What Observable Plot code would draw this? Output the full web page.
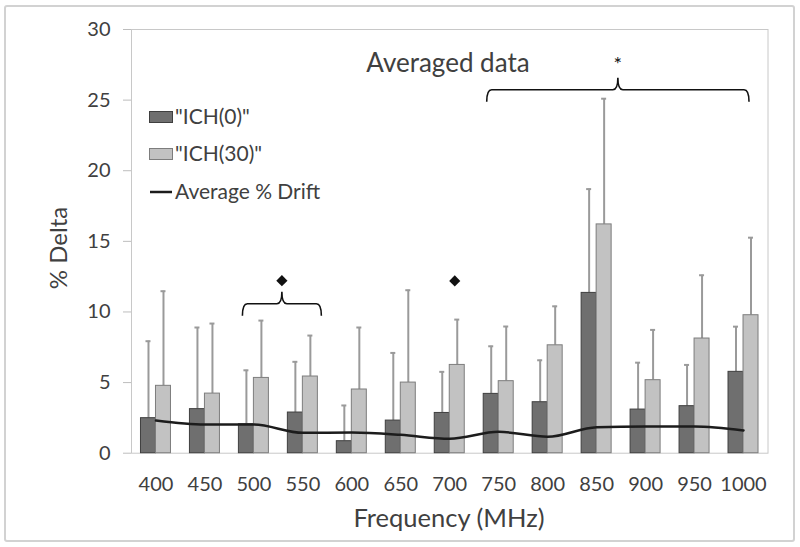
<!DOCTYPE html>
<html><head><meta charset="utf-8">
<script src="https://cdn.jsdelivr.net/npm/d3@7"></script>
<script src="https://cdn.jsdelivr.net/npm/@observablehq/plot@0.6"></script>
<style>
body{margin:0;background:#fff;}
#wrap{position:relative;width:800px;height:547px;overflow:hidden;}
#frame{position:absolute;left:4px;top:5px;width:787px;height:533px;border:2px solid #d2d2d2;border-radius:3px;pointer-events:none;}
#chart svg [aria-label^="y-axis"] line, #chart svg [aria-label="y-axis tick"] path{stroke:#bdbdbd;}
</style></head><body>
<div id="wrap"><div id="chart"></div><div id="frame"></div></div>
<script>
// ---- data ----
const frequencies = ["400","450","500","550","600","650","700","750","800","850","900","950","1000"];
const ich0Mean  = [2.48, 3.12, 2.05, 2.88, 0.85, 2.31, 2.85, 4.20, 3.61, 11.35, 3.09, 3.33, 5.76];
const ich0SD    = [5.45, 5.78, 3.82, 3.59, 2.53, 4.79, 2.91, 3.37, 2.97, 7.35, 3.32, 2.92, 3.20];
const ich30Mean = [4.77, 4.22, 5.33, 5.43, 4.51, 5.00, 6.25, 5.10, 7.64, 16.20, 5.17, 8.12, 9.77];
const ich30SD   = [6.70, 4.96, 4.06, 2.90, 4.39, 6.54, 3.21, 3.87, 2.76, 8.90, 3.56, 4.48, 5.49];
const avgDrift  = [2.31, 2.03, 2.03, 1.44, 1.46, 1.30, 1.02, 1.51, 1.16, 1.84, 1.89, 1.89, 1.61];
const yTicks    = [0, 5, 10, 15, 20, 25, 30];
const seriesNames = ['"ICH(0)"', '"ICH(30)"', "Average % Drift"];
const braceGroups = [
  {from: "500", to: "550", level: 10.55, symbol: "◆"},
  {from: "750", to: "1000", level: 25.7, symbol: "*"}
];
const singleMarks = [{freq: "700", level: 12.2, symbol: "◆"}];
const chartTitle = "Averaged data";
const xTitle = "Frequency (MHz)";
const yTitle = "% Delta";

// ---- layout / style ----
const W = 800, H = 547, ML = 131, MR = 32.5, MT = 29, MB = 94.3;
const bw = (W - ML - MR) / frequencies.length;
const half = bw / 2, barW = 15, cap = 2.5;
const darkFill = "#6f6f6f", darkStroke = "#3f3f3f";
const lightFill = "#c2c2c2", lightStroke = "#7d7d7d";
const errColor = "#9a9a9a";
const textColor = "#404040";
const font = "Lato, sans-serif";
const braceOffsets = {"500": [-11, 19], "750": [-11.5, 6]};

const rows = frequencies.map((f, i) => ({
  freq: f,
  ich0: ich0Mean[i], ich0Hi: ich0Mean[i] + ich0SD[i],
  ich30: ich30Mean[i], ich30Hi: ich30Mean[i] + ich30SD[i],
  drift: avgDrift[i]
}));

function braces(index, scales) {
  const x = scales.x, y = scales.y;
  const off = x.bandwidth ? x.bandwidth() / 2 : 0;
  const g = d3.create("svg:g");
  for (const b of braceGroups) {
    const o = braceOffsets[b.from];
    const L = x(b.from) + off + o[0], R = x(b.to) + off + o[1], M = (L + R) / 2, yb = y(b.level);
    g.append("path")
      .attr("d", `M${L},${yb + 12}Q${L},${yb} ${L + 5},${yb}H${M - 5}Q${M},${yb} ${M},${yb - 12}Q${M},${yb} ${M + 5},${yb}H${R - 5}Q${R},${yb} ${R},${yb + 12}`)
      .attr("fill", "none").attr("stroke", "#111").attr("stroke-width", 1.6);
    if (b.symbol === "◆") {
      g.append("path").attr("transform", `translate(${M},${yb - 23})`)
        .attr("d", d3.symbol(d3.symbolDiamond2, 80)()).attr("fill", "#111");
    } else {
      g.append("text").attr("x", M).attr("y", yb - 19).attr("text-anchor", "middle")
        .attr("font-size", 20).attr("font-family", font).attr("fill", "#111").text(b.symbol);
    }
  }
  return g.node();
}

const plot = Plot.plot({
  width: W, height: H,
  marginLeft: ML, marginRight: MR, marginTop: MT, marginBottom: MB,
  style: {fontFamily: font, fontSize: "20px", color: textColor, background: "white"},
  x: {domain: frequencies, padding: 0, round: false, label: null, tickSize: 0, tickPadding: 24},
  y: {domain: [0, 30], ticks: yTicks, tickSize: 8, tickPadding: 13, label: null},
  marks: [
    Plot.frame({stroke: "#c8c8c8"}),
    Plot.ruleX(rows, {x: "freq", y1: "ich0", y2: "ich0Hi", dx: -barW / 2, stroke: errColor, strokeWidth: 2}),
    Plot.tickY(rows, {x: "freq", y: "ich0Hi", dx: -barW / 2, insetLeft: half - cap, insetRight: half - cap, stroke: errColor, strokeWidth: 2}),
    Plot.ruleX(rows, {x: "freq", y1: "ich30", y2: "ich30Hi", dx: barW / 2, stroke: errColor, strokeWidth: 2}),
    Plot.tickY(rows, {x: "freq", y: "ich30Hi", dx: barW / 2, insetLeft: half - cap, insetRight: half - cap, stroke: errColor, strokeWidth: 2}),
    Plot.barY(rows, {x: "freq", y: "ich0", insetLeft: half - barW, insetRight: half, fill: darkFill, stroke: darkStroke, strokeWidth: 1}),
    Plot.barY(rows, {x: "freq", y: "ich30", insetLeft: half, insetRight: half - barW, fill: lightFill, stroke: lightStroke, strokeWidth: 1}),
    Plot.line(rows, {x: "freq", y: "drift", stroke: "#1c1c1c", strokeWidth: 2.5, curve: "monotone-x"}),
    Plot.dot(singleMarks, {x: "freq", y: "level", symbol: "diamond2", r: 5, fill: "#111", dx: 5}),
    braces
  ]
});

const svg = d3.select(plot);
// chart title
svg.append("text").attr("x", 448).attr("y", 72).attr("text-anchor", "middle")
  .attr("font-family", font).attr("font-size", 26).attr("fill", textColor).text(chartTitle);
// axis titles
svg.append("text").attr("x", 449).attr("y", 527).attr("text-anchor", "middle")
  .attr("font-family", font).attr("font-size", 25.5).attr("fill", textColor).text(xTitle);
svg.append("text").attr("transform", "translate(67,248) rotate(-90)").attr("text-anchor", "middle")
  .attr("font-family", font).attr("font-size", 24).attr("fill", textColor).text(yTitle);
// legend
const lg = svg.append("g").attr("font-family", font).attr("font-size", 21).attr("fill", textColor).attr("text-anchor", "start");
const legendY = [117, 154, 192];
lg.append("rect").attr("x", 149.5).attr("y", legendY[0] - 5.5).attr("width", 23).attr("height", 11)
  .attr("fill", darkFill).attr("stroke", darkStroke);
lg.append("rect").attr("x", 149.5).attr("y", legendY[1] - 5.5).attr("width", 23).attr("height", 11)
  .attr("fill", lightFill).attr("stroke", lightStroke);
lg.append("line").attr("x1", 150).attr("x2", 172).attr("y1", legendY[2]).attr("y2", legendY[2])
  .attr("stroke", "#1c1c1c").attr("stroke-width", 2.5);
seriesNames.forEach((s, i) => {
  lg.append("text").attr("x", 175).attr("y", legendY[i]).attr("dy", "0.35em").attr("text-anchor", "start").text(s);
});

document.getElementById("chart").appendChild(plot);
</script>
</body></html>
